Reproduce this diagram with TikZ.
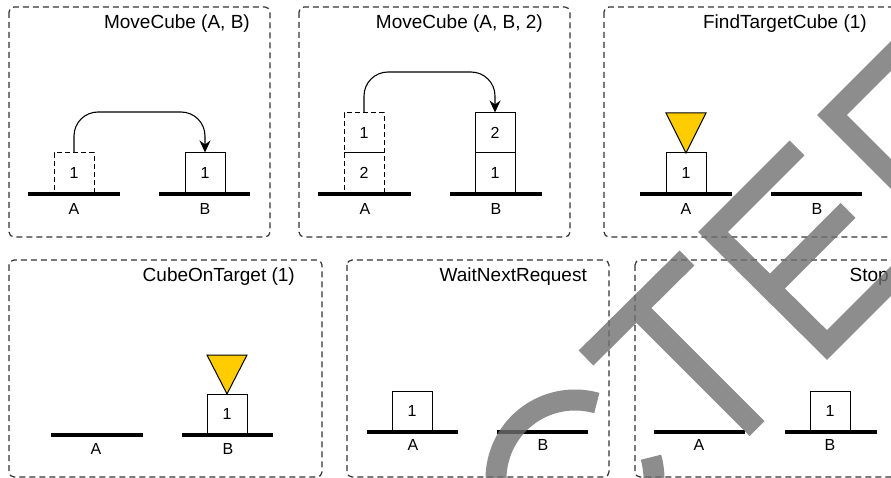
\documentclass[tikz,border=0pt]{standalone}
\usepackage{fontspec}
\setmainfont{Liberation Sans}
\usetikzlibrary{arrows.meta}
\definecolor{gold}{RGB}{255,204,0}
\definecolor{frame}{RGB}{50,50,50}
\definecolor{stampgray}{RGB}{112,112,112}
\tikzset{
  panel/.style={draw=frame, line width=1.2pt, dash pattern=on 6pt off 4pt, rounded corners=5pt},
  title/.style={anchor=base east, inner sep=0pt, font=\fontsize{19}{22}\selectfont},
  cube/.style={draw, line width=1pt, minimum width=40pt, minimum height=40pt, inner sep=0pt, font=\fontsize{16}{19}\selectfont},
  ghost/.style={cube, dash pattern=on 5pt off 3pt},
  ground/.style={line width=4pt},
  place/.style={anchor=base, inner sep=0pt, font=\fontsize{16}{19}\selectfont},
  marker/.style={draw, line width=1pt, fill=gold, line join=miter},
  move/.style={line width=1.1pt, rounded corners=24pt, -{Stealth[length=12pt,width=11pt]}},
  stamp/.style={draw=stampgray, line width=21pt, draw opacity=0.8, line cap=butt, line join=miter},
}
\begin{document}
\begin{tikzpicture}[x=1pt, y=-1pt]
\useasboundingbox (0,0) rectangle (891,478);
\begin{scope}
\clip (0,0) rectangle (891,478);

% ---------- MoveCube (A, B) ----------
\draw[panel] (9,7) rectangle (270,237);
\node[title] (t1) at (250,28.8) {MoveCube (A, B)};
\draw[ground] (28,194) -- (120,194);
\draw[ground] (159,194) -- (250,194);
\node[ghost] (c1a) at (74,173) {1};
\node[cube]  (c1b) at (205,173) {1};
\node[place] (l1a) at (74,214.8) {A};
\node[place] (l1b) at (205,214.8) {B};
\draw[move] (c1a.north) -- (74,112) -- (205,112) -- (c1b.north);

% ---------- MoveCube (A, B, 2) ----------
\draw[panel] (299,7) rectangle (570,237);
\node[title] (t2) at (543,28.8) {MoveCube (A, B, 2)};
\draw[ground] (318,194) -- (411,194);
\draw[ground] (450,194) -- (542,194);
\node[ghost] (c2a1) at (364,173) {2};
\node[ghost] (c2a2) at (364,133) {1};
\node[cube]  (c2b1) at (495,173) {1};
\node[cube]  (c2b2) at (495,133) {2};
\node[place] (l2a) at (365,214.8) {A};
\node[place] (l2b) at (496,214.8) {B};
\draw[move] (c2a2.north) -- (364,72) -- (495,72) -- (c2b2.north);

% ---------- FindTargetCube (1) ----------
\draw[panel] (604,7) rectangle (905,237);
\node[title] (t3) at (867,28.8) {FindTargetCube (1)};
\draw[ground] (640,194) -- (732,194);
\draw[ground] (771,194) -- (862,194);
\node[cube]  (c3a) at (686,173) {1};
\draw[marker] (666,113) -- (706,113) -- (686,153) -- cycle;
\node[place] (l3a) at (686,214.8) {A};
\node[place] (l3b) at (817,214.8) {B};

% ---------- CubeOnTarget (1) ----------
\draw[panel] (9,260) rectangle (322,477);
\node[title] (t4) at (295,282) {CubeOnTarget (1)};
\draw[ground] (51,435) -- (143,435);
\draw[ground] (182,435) -- (273,435);
\node[cube]  (c4b) at (227,414) {1};
\draw[marker] (207,355) -- (247,355) -- (227,394) -- cycle;
\node[place] (l4a) at (96,454.3) {A};
\node[place] (l4b) at (228,454.3) {B};

% ---------- WaitNextRequest ----------
\draw[panel] (347,260) rectangle (609,477);
\node[title] (t5) at (587,282) {WaitNextRequest};
\draw[ground] (367,432) -- (458,432);
\draw[ground] (497,432) -- (588,432);
\node[cube]  (c5a) at (412,411) {1};
\node[place] (l5a) at (413,450.8) {A};
\node[place] (l5b) at (543,450.8) {B};

% ---------- Stop ----------
\draw[panel] (635,260) rectangle (910,477);
\node[title] (t6) at (889,282) {Stop};
\draw[ground] (654,432) -- (745,432);
\draw[ground] (785,432) -- (877,432);
\node[cube]  (c6b) at (830,411) {1};
\node[place] (l6a) at (699,450.8) {A};
\node[place] (l6b) at (830,450.8) {B};

% ---------- grey stamp lettering ----------
% C
\draw[stamp] (575,479) ++(-74:79) arc[start angle=-74, end angle=-376, radius=79];
% T
\draw[stamp] (586,358) -- (687,258) (636.5,308) -- (757,428.5);
% E
\draw[stamp] (797,148) -- (713,232) -- (827,345) -- (911,261)
             (770,288.5) -- (848,210.5);
% D
\draw[stamp] (900,47) -- (832,115) -- (950,233);
\end{scope}
\end{tikzpicture}
\end{document}
